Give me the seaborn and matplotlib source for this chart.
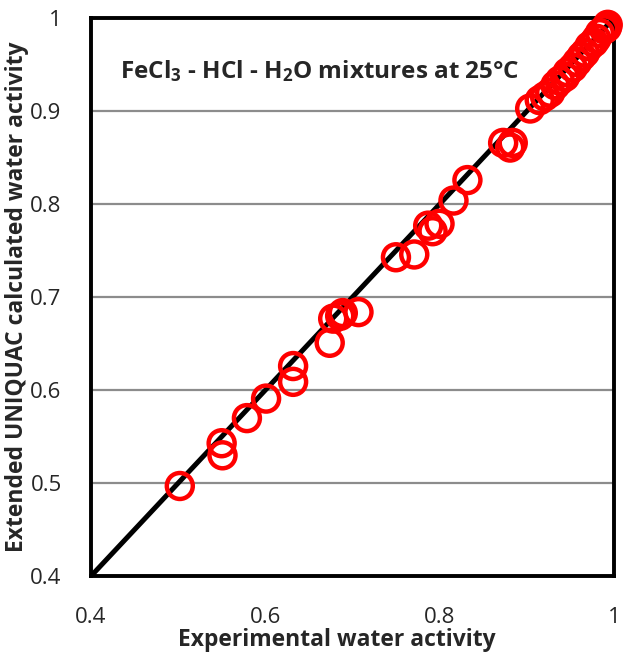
import matplotlib
matplotlib.use("Agg")
import matplotlib.pyplot as plt
import seaborn as sns
import pandas as pd

exp_aw = [0.502, 0.550, 0.551, 0.579, 0.601, 0.632, 0.632, 0.674, 0.678, 0.686,
          0.689, 0.707, 0.750, 0.771, 0.787, 0.792, 0.800, 0.816, 0.832, 0.873,
          0.881, 0.884, 0.904, 0.915, 0.921, 0.927, 0.933, 0.938, 0.944, 0.947,
          0.953, 0.958, 0.963, 0.967, 0.972, 0.977, 0.980, 0.984, 0.989, 0.992,
          0.993]
calc_aw = [0.497, 0.543, 0.530, 0.570, 0.591, 0.626, 0.609, 0.651, 0.677, 0.680,
           0.683, 0.684, 0.743, 0.746, 0.777, 0.771, 0.779, 0.804, 0.826, 0.866,
           0.861, 0.866, 0.903, 0.912, 0.916, 0.920, 0.928, 0.933, 0.937, 0.942,
           0.947, 0.953, 0.959, 0.963, 0.970, 0.974, 0.978, 0.984, 0.988, 0.990,
           0.993]
diag = [0.4, 1.0]
ticks = [0.4, 0.6, 0.8, 1.0]
tick_labels = ["0.4", "0.6", "0.8", "1"]
yticks = [0.4, 0.5, 0.6, 0.7, 0.8, 0.9, 1.0]
ytick_labels = ["0.4", "0.5", "0.6", "0.7", "0.8", "0.9", "1"]

sns.set_style("white")
plt.rcParams['font.family'] = ['Open Sans', 'DejaVu Sans']
plt.rcParams['mathtext.fontset'] = 'custom'
plt.rcParams['mathtext.rm'] = 'Open Sans:bold'
plt.rcParams['mathtext.bf'] = 'Open Sans:bold'
plt.rcParams['mathtext.it'] = 'Open Sans:bold'
plt.rcParams['mathtext.default'] = 'bf'

df = pd.DataFrame({"exp": exp_aw, "calc": calc_aw})

fig = plt.figure(figsize=(6.27, 6.54), dpi=100)
ax = fig.add_axes([0.145, 0.119, 0.834, 0.853])

for y in yticks[1:-1]:
    ax.axhline(y, color="#8c8c8c", lw=1.6, zorder=0)

sns.lineplot(x=diag, y=diag, ax=ax, color="black", lw=3.6, zorder=2)
sns.scatterplot(data=df, x="exp", y="calc", ax=ax, marker="o", s=350,
                facecolors="none", edgecolor="#ff0000", linewidth=3.2, zorder=3,
                clip_on=False)

ax.set_xlim(0.4, 1.0)
ax.set_ylim(0.4, 1.0)
ax.set_xticks(ticks)
ax.set_xticklabels(tick_labels, fontsize=16)
ax.set_yticks(yticks)
ax.set_yticklabels(ytick_labels, fontsize=16)
ax.tick_params(axis="x", direction="out", length=5, width=1.2, color="#8c8c8c", pad=17)
ax.tick_params(axis="y", direction="out", length=5, width=1.2, color="#8c8c8c", pad=16)

for s in ax.spines.values():
    s.set_color("black")
    s.set_linewidth(2.8)

ax.set_xlabel("Experimental water activity", fontsize=16.5, fontweight="bold")
ax.set_ylabel("Extended UNIQUAC calculated water activity", fontsize=16.5,
              fontweight="bold")
ax.xaxis.set_label_coords(0.47, -0.093)
ax.yaxis.set_label_coords(-0.118, 0.5)

ax.text(0.433, 0.943, "FeCl$_3$ - HCl - H$_2$O mixtures at 25°C", fontsize=17.5,
        fontweight="bold", ha="left", va="center")

fig.savefig("out.png", dpi=100)
